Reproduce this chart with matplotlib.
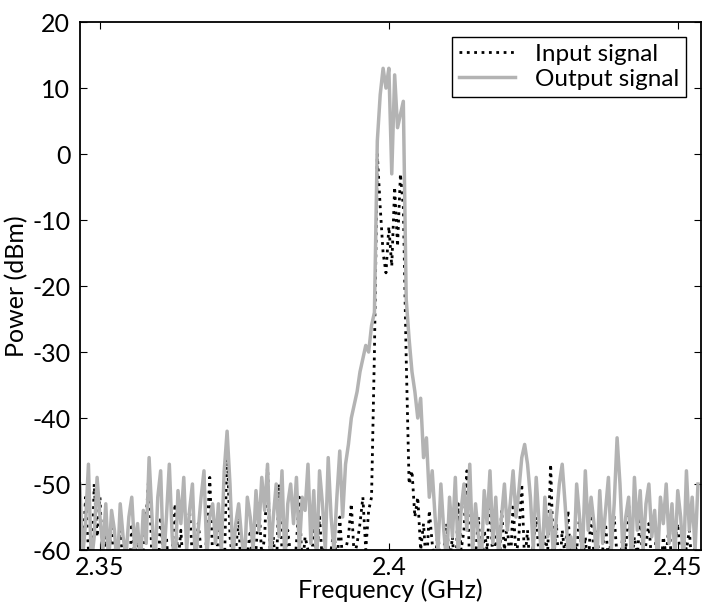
import numpy as np
import matplotlib.pyplot as plt

plt.rcParams['font.family'] = ['Lato', 'DejaVu Sans']
plt.rcParams['axes.unicode_minus'] = False

# frequency grid (GHz), 0.5 MHz steps from 2.3465 to 2.4535
freq = np.round(2.3465 + 0.0005 * np.arange(215), 4)

# input signal (dBm)
input_dbm = [
    -55, -62, -52, -60, -65, -50, -58,
    -52, -63, -58, -61, -56, -64, -60, -57, -62, -59, -65, -56, -61, -58, -63, -60, -55, -48, -62, -58,
    -64, -55, -61, -58, -65, -60, -53, -62, -57, -64, -59, -54, -61, -63, -56, -60, -62, -58, -49, -61,
    -63, -57, -60, -64, -44, -58, -62, -60, -55, -65, -59, -61, -57, -63, -60, -53, -61, -58, -47, -62,
    -58, -64, -50, -60, -62, -57, -61, -65, -59, -52, -63, -58, -60, -64, -56, -61, -55, -62, -59, -65,
    -60, -57, -63, -55, -62, -60, -58, -53, -61, -59, -56, -52, -60, -54, -52, -30, 0, -8, -15, -18,
    -11, -17, -5, -14, -3, -8, -31, -50, -48, -55, -52, -60, -56, -63, -54, -59, -62, -57, -64, -60,
    -56, -62, -58, -65, -53, -60, -57, -48, -63, -59, -61, -55, -64, -57, -60, -52, -62, -58, -65, -54,
    -60, -56, -63, -53, -61, -58, -50, -62, -57, -64, -59, -55, -61, -63, -58, -60, -47, -62, -56, -64,
    -57, -61, -54, -63, -59, -60, -55, -62, -58, -64, -53, -61, -57, -63, -60, -56, -62, -58, -55, -61,
    -64, -57, -60, -53, -62, -58, -61, -55, -63, -59, -56, -62, -60, -57, -64, -58, -61, -56, -63, -59,
    -56, -62, -58, -60, -57, -63, -59, -61,
]

# output signal (dBm)
output_dbm = [
    -50, -61, -56, -47, -62, -58, -49,
    -55, -60, -53, -62, -54, -57, -63, -53, -58, -61, -55, -52, -60, -56, -62, -54, -59, -46, -55, -63,
    -52, -48, -62, -55, -47, -58, -63, -51, -56, -49, -60, -54, -50, -62, -57, -52, -48, -61, -55, -53,
    -59, -53, -60, -48, -42, -50, -61, -56, -53, -58, -62, -52, -55, -60, -51, -57, -49, -54, -47, -61,
    -55, -50, -58, -48, -62, -53, -50, -56, -49, -60, -52, -54, -47, -59, -51, -62, -48, -53, -60, -46,
    -55, -60, -52, -45, -55, -47, -44, -40, -38, -36, -33, -31, -29, -30, -26, -24, 2, 9, 13, 10,
    13, -3, 12, 4, 6, 8, -22, -28, -33, -36, -40, -37, -46, -43, -52, -48, -55, -60, -50, -57,
    -62, -52, -58, -49, -61, -54, -50, -57, -47, -60, -53, -58, -62, -51, -56, -48, -59, -52, -61, -55,
    -50, -57, -53, -48, -55, -51, -46, -44, -47, -52, -60, -49, -56, -62, -52, -58, -54, -61, -55, -50,
    -47, -53, -60, -58, -62, -50, -55, -61, -48, -57, -52, -56, -62, -51, -59, -54, -49, -60, -53, -43,
    -50, -60, -55, -52, -62, -49, -57, -51, -60, -53, -50, -58, -54, -62, -52, -56, -50, -59, -53, -61,
    -51, -55, -62, -48, -57, -52, -60, -50,
]

x_ticks = [2.35, 2.4, 2.45]
x_tick_labels = ['2.35', '2.4', '2.45']
y_ticks = [-60, -50, -40, -30, -20, -10, 0, 10, 20]

fig = plt.figure(figsize=(7.03, 6.04), dpi=100)
ax = fig.add_axes([0.1138, 0.0894, 0.883, 0.874])

ax.plot(freq, input_dbm, color='black', linestyle=':', linewidth=2.0, label='Input signal')
ax.plot(freq, output_dbm, color='#b3b3b3', linestyle='-', linewidth=2.5, label='Output signal')

ax.set_xlim(2.34654, 2.45398)
ax.set_ylim(-60, 20)
ax.set_xticks(x_ticks)
ax.set_xticklabels(x_tick_labels)
ax.set_yticks(y_ticks)
ax.tick_params(direction='in', length=5, labelsize=18, colors='black',
               top=True, right=True)
ax.tick_params(axis='y', pad=7)
ax.tick_params(axis='x', pad=4)
for s in ax.spines.values():
    s.set_linewidth(1.3)

ax.set_xlabel('Frequency (GHz)', fontsize=18, labelpad=0)
ax.set_ylabel('Power (dBm)', fontsize=18, labelpad=3)

leg = ax.legend(loc='upper right', fontsize=17.5, fancybox=False, framealpha=1,
                edgecolor='black', borderaxespad=0.6, handlelength=2.3,
                handletextpad=0.8, borderpad=0.3, labelspacing=0.15)
leg.get_frame().set_linewidth(1.0)

fig.savefig('out.png', dpi=100)
